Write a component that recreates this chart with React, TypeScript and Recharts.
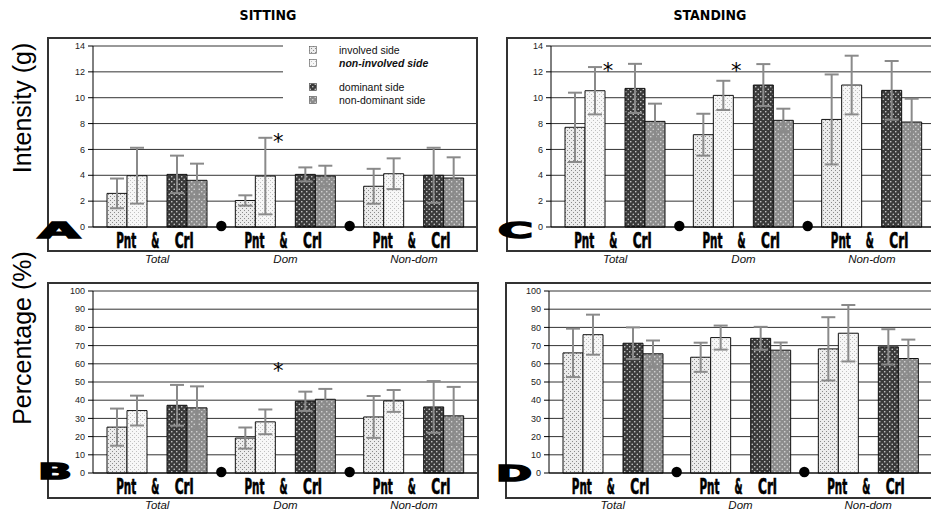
import React from 'react';
import { ComposedChart, Bar, XAxis, YAxis, CartesianGrid, ErrorBar, LabelList } from 'recharts';

const groups = ['Total', 'Dom', 'Non-dom'];

// A: intensity (g), sitting
const aInv = [2.6, 2.05, 3.15];
const aInvSd = [1.15, 0.4, 1.35];
const aNonInv = [3.97, 3.94, 4.12];
const aNonInvSd = [2.16, 2.96, 1.19];
const aDom = [4.07, 4.07, 4.0];
const aDomSd = [1.45, 0.54, 2.13];
const aNonDom = [3.61, 3.94, 3.79];
const aNonDomSd = [1.29, 0.8, 1.6];
const aStar = [null, 6.9, null];

// C: intensity (g), standing
const cInv = [7.71, 7.14, 8.32];
const cInvSd = [2.68, 1.62, 3.48];
const cNonInv = [10.54, 10.18, 10.98];
const cNonInvSd = [1.83, 1.13, 2.27];
const cDom = [10.72, 10.98, 10.57];
const cDomSd = [1.9, 1.62, 2.27];
const cNonDom = [8.17, 8.25, 8.12];
const cNonDomSd = [1.37, 0.9, 1.8];
const cStar = [12.4, 12.4, null];

// B: percentage (%), sitting
const bInv = [25.2, 19.2, 30.8];
const bInvSd = [10.2, 5.8, 11.5];
const bNonInv = [34.3, 28.1, 39.6];
const bNonInvSd = [8.2, 6.8, 6.0];
const bDom = [37.2, 39.4, 36.3];
const bDomSd = [11.2, 5.3, 14.2];
const bNonDom = [35.8, 40.5, 31.4];
const bNonDomSd = [11.8, 5.7, 15.9];
const bStar = [null, 58.4, null];

// D: percentage (%), standing
const dInv = [66, 63.6, 68.2];
const dInvSd = [13.3, 8, 17.4];
const dNonInv = [76, 74.4, 76.8];
const dNonInvSd = [11, 6.6, 15.5];
const dDom = [71.3, 74, 69.3];
const dDomSd = [8.7, 6.3, 9.7];
const dNonDom = [65.5, 67.5, 62.9];
const dNonDomSd = [7.3, 4.2, 10.4];
const dStar = [null, null, null];

const intensityTicks = [0, 2, 4, 6, 8, 10, 12, 14];
const percentTicks = [0, 10, 20, 30, 40, 50, 60, 70, 80, 90, 100];

const legendItems = [
  { label: 'involved side', fill: 'url(#pInv)', bold: false },
  { label: 'non-involved side', fill: 'url(#pNonInv)', bold: true },
  { label: 'dominant side', fill: 'url(#pDom)', bold: false },
  { label: 'non-dominant side', fill: 'url(#pNonDom)', bold: false },
];

const makeRows = (
  inv: number[], invSd: number[], nonInv: number[], nonInvSd: number[],
  dom: number[], domSd: number[], nonDom: number[], nonDomSd: number[], star: (number | null)[],
) =>
  groups.map((g, i) => ({
    group: g,
    inv: inv[i], invSd: invSd[i],
    nonInv: nonInv[i], nonInvSd: nonInvSd[i],
    star: star[i],
    dom: dom[i], domSd: domSd[i],
    nonDom: nonDom[i], nonDomSd: nonDomSd[i],
  }));

const heavy = '"DejaVu Sans Condensed", "DejaVu Sans", sans-serif';

// squeezed heavy word, w = final width in px
const Squeezed = ({ x, y, w, children }: { x: number; y: number; w: number; children: string }) => (
  <g transform={`translate(${x},${y}) scale(0.55,1)`}>
    <text x={0} y={0} textAnchor="middle" fontFamily={heavy} fontWeight="bold" fontSize={22}
      textLength={w / 0.55} lengthAdjust="spacingAndGlyphs" fill="#000" stroke="#000" strokeWidth={0.7}>
      {children}
    </text>
  </g>
);

const GroupTick = (props: any) => {
  const { x, y, payload, index, band } = props;
  return (
    <g>
      <Squeezed x={x - 31} y={y + 21} w={20}>Pnt</Squeezed>
      <Squeezed x={x - 2} y={y + 21} w={8}>&amp;</Squeezed>
      <Squeezed x={x + 27} y={y + 21} w={19}>Crl</Squeezed>
      <text x={x} y={y + 36} textAnchor="middle" fontStyle="italic" fontSize={11.5} fill="#111">
        {payload.value}
      </text>
      {index < groups.length - 1 && <circle cx={x + band / 2} cy={y - 1} r={5.2} fill="#000" />}
    </g>
  );
};

const StarLabel = (props: any) => {
  if (props.value == null) return null;
  const vb = props.viewBox || props;
  return (
    <text x={vb.x + 3} y={vb.y + 11} textAnchor="middle" fontFamily='"DejaVu Sans", sans-serif' fontSize={21} fill="#000">
      *
    </text>
  );
};

type PanelProps = {
  left: number;
  top: number;
  width: number;
  padLeft: number;
  plotHeight: number;
  yMax: number;
  yTicks: number[];
  rows: any[];
};

const Panel = ({ left, top, width, padLeft, plotHeight, yMax, yTicks, rows }: PanelProps) => {
  const height = 8 + plotHeight + 40 + 2;
  const band = (width - padLeft - 40) / groups.length;
  const errProps = { width: 7, stroke: '#8a8a8a', strokeWidth: 2 };
  return (
    <div style={{ position: 'absolute', left, top }}>
      <ComposedChart width={width} height={height} data={rows} barSize={20} barGap={0}
        margin={{ top: 8, right: 0, bottom: 2, left: padLeft }}>
        <CartesianGrid vertical={false} stroke="#333" />
        <XAxis dataKey="group" height={40} interval={0} tickSize={0} tickMargin={0} axisLine={{ stroke: '#000' }}
          tick={(p: any) => <GroupTick {...p} band={band} />} />
        <YAxis width={40} domain={[0, yMax]} ticks={yTicks} interval={0} tickSize={5} tickMargin={3}
          axisLine={{ stroke: '#000' }} tickLine={{ stroke: '#000' }} tick={{ fontSize: 9, fill: '#222' }} />
        <Bar dataKey="inv" fill="url(#pInv)" stroke="#111" isAnimationActive={false}>
          <ErrorBar dataKey="invSd" {...errProps} />
        </Bar>
        <Bar dataKey="nonInv" fill="url(#pNonInv)" stroke="#111" isAnimationActive={false}>
          <ErrorBar dataKey="nonInvSd" {...errProps} />
        </Bar>
        <Bar dataKey="star" fill="none" stroke="none" isAnimationActive={false}>
          <LabelList dataKey="star" content={StarLabel} />
        </Bar>
        <Bar dataKey="dom" fill="url(#pDom)" stroke="#111" isAnimationActive={false}>
          <ErrorBar dataKey="domSd" {...errProps} />
        </Bar>
        <Bar dataKey="nonDom" fill="url(#pNonDom)" stroke="#111" isAnimationActive={false}>
          <ErrorBar dataKey="nonDomSd" {...errProps} />
        </Bar>
      </ComposedChart>
    </div>
  );
};

const frame = (left: number, top: number, width: number, height: number) => (
  <div style={{
    position: 'absolute', left, top, width, height, boxSizing: 'border-box',
    border: '2px solid #333', pointerEvents: 'none',
  }} />
);

const rowsA = makeRows(aInv, aInvSd, aNonInv, aNonInvSd, aDom, aDomSd, aNonDom, aNonDomSd, aStar);
const rowsB = makeRows(bInv, bInvSd, bNonInv, bNonInvSd, bDom, bDomSd, bNonDom, bNonDomSd, bStar);
const rowsC = makeRows(cInv, cInvSd, cNonInv, cNonInvSd, cDom, cDomSd, cNonDom, cNonDomSd, cStar);
const rowsD = makeRows(dInv, dInvSd, dNonInv, dNonInvSd, dDom, dDomSd, dNonDom, dNonDomSd, dStar);

const legendRowsY = [50, 63, 87, 100];

const panelLetter = (ch: string, x: number, baseline: number, len: number) => (
  <text x={x} y={baseline} fontFamily='"DejaVu Sans", sans-serif' fontWeight="bold" fontSize={21}
    textLength={len} lengthAdjust="spacingAndGlyphs" fill="#000" stroke="#000" strokeWidth={1.4}>
    {ch}
  </text>
);

export default function App() {
  return (
    <div style={{
      position: 'fixed', left: 0, top: 0, width: 931, height: 515, overflow: 'hidden',
      background: '#fff', fontFamily: '"Liberation Sans", Arial, sans-serif',
    }}>
      <Panel left={48} top={38} width={430} padLeft={5} plotHeight={181} yMax={14} yTicks={intensityTicks} rows={rowsA} />
      <Panel left={507} top={38} width={429} padLeft={4} plotHeight={181} yMax={14} yTicks={intensityTicks} rows={rowsC} />
      <Panel left={48} top={283} width={430} padLeft={5} plotHeight={182} yMax={100} yTicks={percentTicks} rows={rowsB} />
      <Panel left={506} top={283} width={426} padLeft={3} plotHeight={182} yMax={100} yTicks={percentTicks} rows={rowsD} />

      {frame(47, 37, 431, 215)}
      {frame(506, 37, 432, 215)}
      {frame(47, 282, 432, 217)}
      {frame(505, 282, 432, 217)}

      <div style={{ position: 'absolute', left: 283, top: 40, width: 193, height: 71, background: '#fff' }}>
        {legendItems.map((item, i) => (
          <React.Fragment key={item.label}>
            <svg width={8} height={8} style={{ position: 'absolute', left: 26, top: legendRowsY[i] - 40 - 4 }}>
              <rect x={0.5} y={0.5} width={7} height={7} fill={item.fill} stroke="#555" strokeWidth={0.6} />
            </svg>
            <div style={{
              position: 'absolute', left: 56, top: legendRowsY[i] - 40 - 7, lineHeight: '14px', fontSize: 10.5,
              whiteSpace: 'nowrap', color: '#111',
              fontWeight: item.bold ? 'bold' : 'normal', fontStyle: item.bold ? 'italic' : 'normal',
            }}>
              {item.label}
            </div>
          </React.Fragment>
        ))}
      </div>

      <svg width={931} height={515} style={{ position: 'absolute', left: 0, top: 0, pointerEvents: 'none' }}>
        <defs>
          <pattern id="pInv" width="4" height="4" patternUnits="userSpaceOnUse">
            <rect width="4" height="4" fill="#ececec" />
            <rect x="0" y="0" width="1" height="1" fill="#8a8a8a" />
            <rect x="2" y="2" width="1" height="1" fill="#8a8a8a" />
          </pattern>
          <pattern id="pNonInv" width="4" height="4" patternUnits="userSpaceOnUse">
            <rect width="4" height="4" fill="#f7f7f7" />
            <rect x="0" y="0" width="1" height="1" fill="#c0c0c0" />
            <rect x="2" y="2" width="1" height="1" fill="#c0c0c0" />
          </pattern>
          <pattern id="pDom" width="5" height="5" patternUnits="userSpaceOnUse">
            <rect width="5" height="5" fill="#3a3a3a" />
            <circle cx="1.25" cy="1.25" r="0.8" fill="#d4d4d4" />
            <circle cx="3.75" cy="3.75" r="0.8" fill="#d4d4d4" />
          </pattern>
          <pattern id="pNonDom" width="5" height="5" patternUnits="userSpaceOnUse">
            <rect width="5" height="5" fill="#8c8c8c" />
            <circle cx="1.25" cy="1.25" r="0.8" fill="#dadada" />
            <circle cx="3.75" cy="3.75" r="0.8" fill="#dadada" />
          </pattern>
        </defs>

        <text x={268} y={20} textAnchor="middle" fontFamily='"Liberation Sans Narrow", "DejaVu Sans Condensed", Arial'
          fontWeight="bold" fontSize={14} fill="#000">SITTING</text>
        <text x={710} y={20} textAnchor="middle" fontFamily='"Liberation Sans Narrow", "DejaVu Sans Condensed", Arial'
          fontWeight="bold" fontSize={14} fill="#000">STANDING</text>

        <text transform="translate(22,108) rotate(-90)" textAnchor="middle" dominantBaseline="central"
          fontSize={25} fill="#000">Intensity (g)</text>
        <text transform="translate(22,338) rotate(-90)" textAnchor="middle" dominantBaseline="central"
          fontSize={25} fill="#000">Percentage (%)</text>

        {panelLetter('A', 38, 238, 42)}
        {panelLetter('B', 38, 479, 34)}
        {panelLetter('C', 498, 238, 35)}
        {panelLetter('D', 496, 481, 36)}
      </svg>
    </div>
  );
}
